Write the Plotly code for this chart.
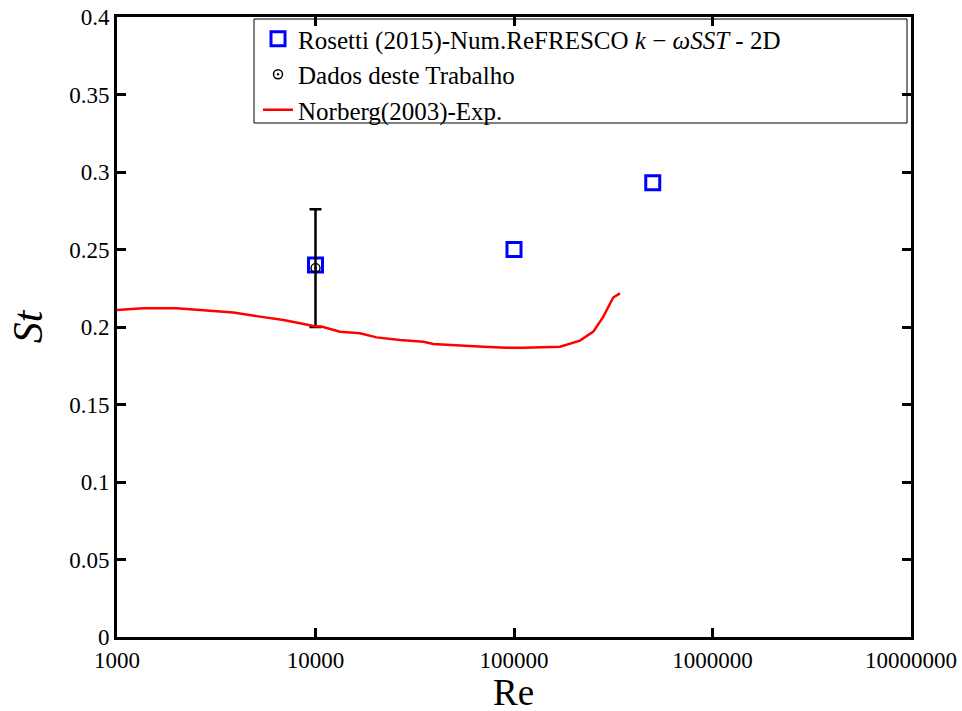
import plotly.graph_objects as go

# ---- data ----
rosetti_re = [10000, 100000, 500000]
rosetti_st = [0.240, 0.250, 0.293]

dados_re = [10000]
dados_st = [0.238]
dados_err = [0.038]

norberg_re = [1000, 1357, 2000, 2938, 3855, 5250, 6890, 8360, 9750, 10820,
              13270, 16740, 20300, 26640, 34940, 39240, 53500, 70000, 91800,
              111400, 170600, 214900, 251000, 281900, 316000, 342000]
norberg_st = [0.2110, 0.2121, 0.2121, 0.2105, 0.2093, 0.2067, 0.2045, 0.2024,
              0.2006, 0.2002, 0.1970, 0.1959, 0.1933, 0.1916, 0.1905, 0.1890,
              0.1879, 0.1873, 0.1866, 0.1866, 0.1873, 0.1912, 0.1970, 0.2067,
              0.2190, 0.2217]

x_tickvals = [1000, 10000, 100000, 1000000, 10000000]
x_ticktext = ["1000", "10000", "100000", "1000000", "10000000"]
y_tickvals = [0, 0.05, 0.1, 0.15, 0.2, 0.25, 0.3, 0.35, 0.4]
y_ticktext = ["0", "0.05", "0.1", "0.15", "0.2", "0.25", "0.3", "0.35", "0.4"]

FONT = "Liberation Serif, Times New Roman, serif"

fig = go.Figure()
fig.add_trace(go.Scatter(
    x=rosetti_re, y=rosetti_st, mode="markers",
    name="Rosetti (2015)-Num.ReFRESCO <i>k</i> − <i>ωSST</i> - 2D",
    marker=dict(symbol="square-open", size=14, color="#0000ff", line=dict(width=3, color="#0000ff")),
    legendgroup="a",
))
fig.add_trace(go.Scatter(
    x=dados_re, y=dados_st, mode="markers",
    name="Dados deste Trabalho",
    marker=dict(symbol="circle-open-dot", size=9, color="black", line=dict(width=1.5, color="black")),
    error_y=dict(type="data", array=dados_err, visible=True, color="black", thickness=2.5, width=6),
    legendgroup="b",
))
fig.add_trace(go.Scatter(
    x=norberg_re, y=norberg_st, mode="lines",
    name="Norberg(2003)-Exp.",
    line=dict(color="#ff0000", width=2.5),
    legendgroup="c",
))

L, R, T, B = 117, 51, 17, 74
W, H = 962, 711
pw, ph = W - L - R, H - T - B

def px2paper_x(px):
    return (px - L) / pw

def px2paper_y(py):
    return 1 - (py - T) / ph

fig.update_layout(
    width=W, height=H,
    margin=dict(l=L, r=R, t=T, b=B, autoexpand=False),
    paper_bgcolor="white", plot_bgcolor="white",
    font=dict(family=FONT, color="black", size=25),
    showlegend=True,
    legend=dict(
        x=px2paper_x(258), y=px2paper_y(16), xanchor="left", yanchor="top",
        bgcolor="rgba(0,0,0,0)", borderwidth=0,
        font=dict(family=FONT, size=25, color="black"),
        traceorder="grouped", tracegroupgap=0,
        itemwidth=30,
    ),
    shapes=[dict(
        type="rect", xref="paper", yref="paper",
        x0=px2paper_x(254), x1=px2paper_x(907), y0=px2paper_y(123), y1=px2paper_y(19),
        line=dict(color="black", width=1), fillcolor="white", layer="below",
    )],
    annotations=[dict(
        text="Re", xref="paper", yref="paper",
        x=px2paper_x(513), y=px2paper_y(692), xanchor="center", yanchor="middle",
        height=34, borderpad=0,
        showarrow=False, font=dict(family=FONT, size=37, color="black"),
    )],
)

fig.update_xaxes(
    type="log", range=[3, 7], automargin=False,
    tickvals=x_tickvals, ticktext=x_ticktext,
    ticks="inside", ticklen=9, tickwidth=2.5, tickcolor="black",
    showline=True, linewidth=3, linecolor="black", mirror="ticks",
    showgrid=False, zeroline=False,
    tickfont=dict(family=FONT, size=23),
)
fig.update_yaxes(
    range=[0, 0.4], automargin=False,
    tickvals=y_tickvals, ticktext=y_ticktext,
    ticks="inside", ticklen=9, tickwidth=2.5, tickcolor="black",
    showline=True, linewidth=3, linecolor="black", mirror="ticks",
    showgrid=False, zeroline=False,
    tickfont=dict(family=FONT, size=23),
    title=dict(text="<i>St</i>", font=dict(family=FONT, size=42), standoff=14),
)

fig.write_html("out.html")
